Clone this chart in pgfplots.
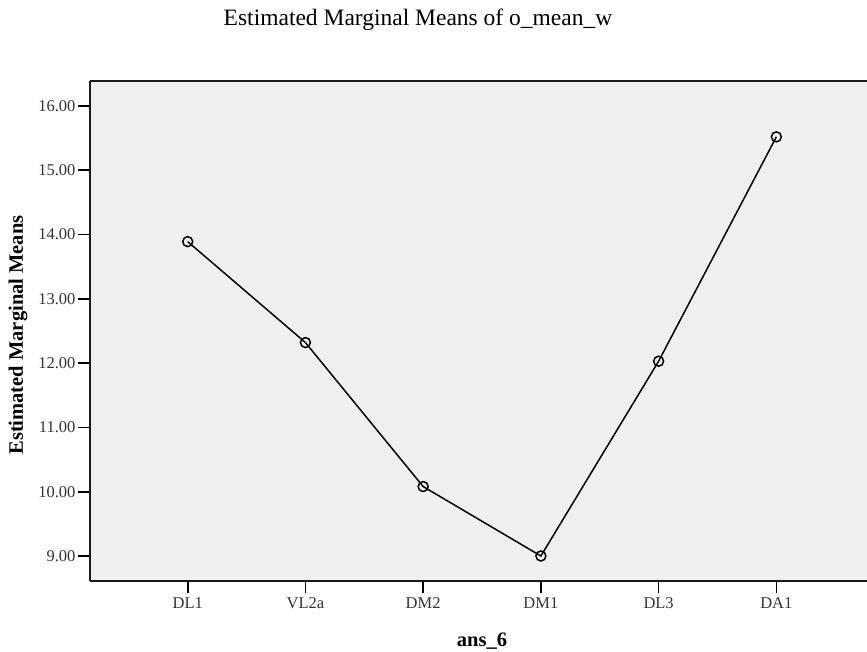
\documentclass[border=0pt]{standalone}
\usepackage{pgfplots}
\pgfplotsset{compat=1.18}
\usepackage{fontspec}
\setmainfont{Liberation Serif}
\definecolor{bgg}{HTML}{EFEFEF}
\begin{document}
\begin{tikzpicture}[x=1pt,y=1pt]
\path[use as bounding box] (-90,-71) rectangle (777,581);
\begin{axis}[
  at={(0,0)}, anchor=south west,
  scale only axis, width=777pt, height=500pt,
  xmin=-0.83, xmax=5.77,
  ymin=8.611, ymax=16.389,
  axis x line=box, axis y line=left,
  axis line style={-, line width=1.3pt, black!90},
  axis background/.style={fill=bgg},
  xtick={0,1,2,3,4,5},
  xticklabels={DL1,VL2a,DM2,DM1,DL3,DA1},
  ytick={9,10,11,12,13,14,15,16},
  yticklabel style={/pgf/number format/fixed, /pgf/number format/fixed zerofill, /pgf/number format/precision=2, xshift=1pt},
  /pgf/number format/assume math mode=true,
  tick align=outside,
  major tick length=12pt,
  tick style={line width=1.6pt, black},
  xtick pos=bottom, ytick pos=left,
  tick label style={font=\fontsize{16.5}{18}\selectfont, text=black!80},
  xticklabel style={yshift=-1pt},
  clip=false,
]
\addplot[black, line width=1.5pt, mark=o, mark size=5pt, mark options={line width=1.5pt}]
  coordinates {(0,13.89) (1,12.32) (2,10.08) (3,9.00) (4,12.03) (5,15.52)};
\node at (rel axis cs:0,0) [xshift=328pt, yshift=561pt] {\fontsize{23.5}{26}\selectfont Estimated Marginal Means of o\_mean\_w};
\node at (rel axis cs:0,0) [xshift=-72pt, yshift=246pt, rotate=90] {\fontsize{20.5}{24}\selectfont\bfseries Estimated Marginal Means};
\node at (rel axis cs:0,0) [xshift=392pt, yshift=-60pt] {\fontsize{20.5}{24}\selectfont\bfseries ans\_6};
\end{axis}
\end{tikzpicture}
\end{document}
